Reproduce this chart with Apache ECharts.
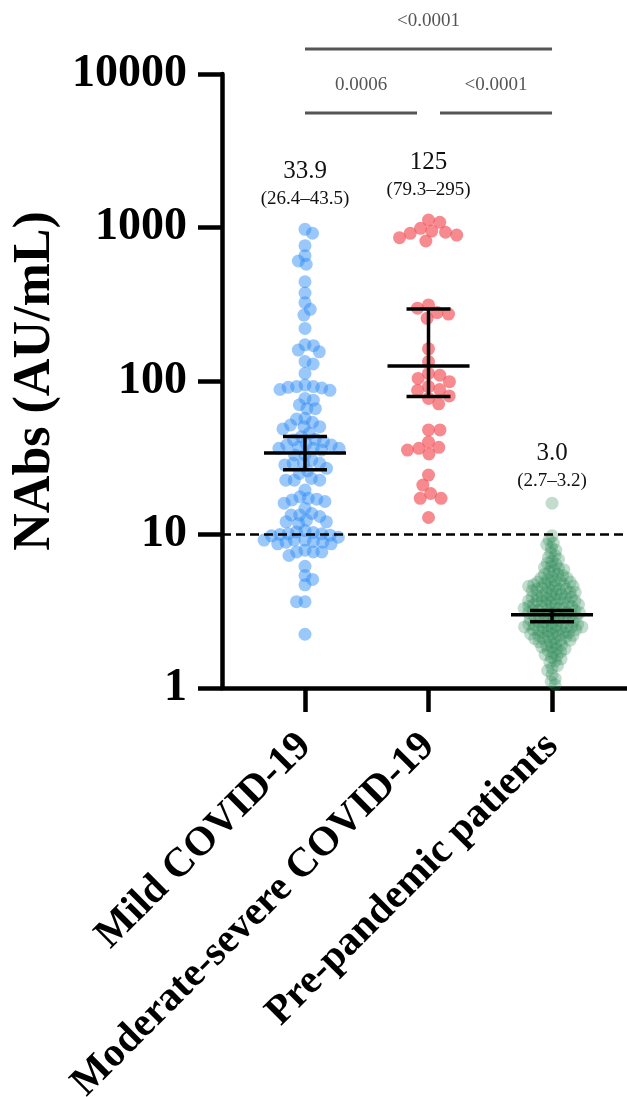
<!DOCTYPE html>
<html><head><meta charset="utf-8">
<script src="https://cdn.jsdelivr.net/npm/echarts@6/dist/echarts.min.js"></script>
<style>html,body{margin:0;padding:0;background:#fff}#c{width:627px;height:1097px}</style>
</head><body><div id="c"></div>
<script>
// ---------- DATA ----------
const categories = ['Mild COVID-19', 'Moderate-severe COVID-19', 'Pre-pandemic patients'];

const mildValues = [
  973, 917, 761, 655, 605, 576, 443, 374, 324, 293, 269, 220, 172, 170, 159, 155, 134, 129, 112,
  94, 92, 92, 91, 90, 88, 87, 77, 75, 70, 66, 66,
  57.2, 56.5, 53.8, 51.7, 50.4, 50.4, 48.7,
  45.6, 43.4, 41.7, 41.3, 40.3, 39, 38.3, 38.3, 37,
  36.4, 36.4, 36.4, 35.5, 33, 33,
  30.6, 29.1, 29.1, 29.1, 28.4, 27, 26, 25,
  23.2, 22.6, 22.6, 22.6, 19.5,
  17.6, 17.2, 17, 16.8, 16.4, 16,
  14.8, 13.7, 13.4, 13.4, 13.1, 12.4, 12.1, 12.1, 11.8,
  10.6, 10.4, 10.3, 10.1, 10.1, 10.0, 9.9, 9.8, 9.6,
  9.2, 9.2, 9.2, 9.0, 8.9, 8.9, 8.7, 8.7,
  7.9, 7.7, 7.7, 7.7, 7.3, 6.2, 5.4, 5.1, 4.7, 3.65, 3.65, 2.24
];

const severeValues = [
  1119, 1081, 988, 948, 931, 916, 893, 859, 817,
  313, 298, 279, 273, 256,
  162, 134, 112, 109, 104, 99, 92, 88, 87, 80, 77, 71,
  48, 48, 40, 37, 36.4, 35.5, 33.5,
  24.4, 21, 18.5, 17.2, 17.2, 12.9
];

const prepandemicValues = [
  16,
  9.8, 9.2, 8.8, 8.6,
  8.2, 7.9, 7.6, 7.3, 7.1,
  6.9, 6.7, 6.5, 6.4, 6.2, 6.1, 6.0, 5.9, 5.8, 5.7,
  5.5, 5.5, 5.4, 5.3, 5.2, 5.2, 5.1, 5.0, 5.0, 4.9, 4.9, 4.8, 4.8, 4.7, 4.7, 4.6, 4.6, 4.6,
  4.5, 4.5, 4.4, 4.4, 4.4, 4.3, 4.3, 4.2, 4.2, 4.2, 4.1, 4.1, 4.0, 4.0, 4.0, 3.9, 3.9, 3.9,
  3.8, 3.8, 3.8, 3.7, 3.7, 3.7, 3.7, 3.6, 3.6, 3.6, 3.5, 3.5, 3.5, 3.5, 3.4, 3.4, 3.4,
  3.3, 3.3, 3.3, 3.3, 3.2, 3.2, 3.2, 3.2, 3.1, 3.1, 3.1, 3.1, 3.0, 3.0, 3.0, 3.0, 2.95,
  2.9, 2.9, 2.9, 2.85, 2.8, 2.8, 2.8, 2.75, 2.7, 2.7, 2.7, 2.65, 2.65, 2.6, 2.6, 2.6,
  2.55, 2.55, 2.5, 2.5, 2.5, 2.5, 2.5,
  2.45, 2.45, 2.4, 2.4, 2.4, 2.35, 2.35, 2.3, 2.3, 2.3, 2.25, 2.25, 2.2, 2.2, 2.2,
  2.15, 2.15, 2.1, 2.1, 2.1, 2.05, 2.05,
  2.0, 2.0, 1.95, 1.9, 1.9, 1.85, 1.85, 1.8, 1.8, 1.75, 1.72, 1.7,
  1.65, 1.62, 1.58, 1.55, 1.5, 1.47,
  1.4, 1.35, 1.3, 1.22, 1.15, 1.1, 1.05
];

const geoMeans = [33.9, 125, 3.0];
const ciLow = [26.4, 79.3, 2.7];
const ciHigh = [43.5, 295, 3.2];

const yTickLabels = ['1', '10', '100', '1000', '10000'];
const yAxisTitle = 'NAbs (AU/mL)';
const threshold = 10;

const comparisons = [[0, 2], [0, 1], [1, 2]];
const pValues = ['<0.0001', '0.0006', '<0.0001'];

// ---------- STYLE ----------
const SERIF = "'Liberation Serif', 'DejaVu Serif', serif";
const groupColors = ['rgba(47,140,245,0.6)', 'rgba(242,84,91,0.85)', 'rgba(46,139,87,0.36)'];
const swarmSpacing = [8.5, 11.5, 5.1];
const labelGap = [0, 0, 8];
const dotSize = 13;

const chart = echarts.init(document.getElementById('c'), null, { renderer: 'canvas' });

const baseOption = {
  animation: false,
  backgroundColor: '#fff',
  grid: { left: 222, right: 0, top: 74, bottom: 409, containLabel: false, outerBoundsMode: 'none' },
  xAxis: {
    type: 'value', min: -0.672, max: 2.607,
    splitLine: { show: false },
    axisLine: { show: true, onZero: false, lineStyle: { color: '#000', width: 4.5 } },
    axisTick: { show: true, customValues: [0, 1, 2], length: 24, lineStyle: { color: '#000', width: 4.5 } },
    axisLabel: {
      show: true, customValues: [0, 1, 2], rotate: 45, margin: 52,
      formatter: v => categories[Math.round(v)],
      fontFamily: SERIF, fontWeight: 'bold', fontSize: 41, color: '#000'
    }
  },
  yAxis: {
    type: 'log', logBase: 10, min: 1, max: 10000,
    name: yAxisTitle, nameLocation: 'middle', nameGap: 149,
    nameTextStyle: { fontFamily: SERIF, fontWeight: 'bold', fontSize: 52, color: '#000' },
    splitLine: { show: false },
    axisLine: { show: true, onZero: false, lineStyle: { color: '#000', width: 4.5 } },
    axisTick: { show: true, length: 24, lineStyle: { color: '#000', width: 4.5 } },
    axisLabel: {
      margin: 35, fontFamily: SERIF, fontWeight: 'bold', fontSize: 46, color: '#000',
      formatter: v => yTickLabels[Math.round(Math.log10(v))]
    }
  },
  series: []
};
chart.setOption(baseOption);

// beeswarm layout in pixel space using the library's scales
function swarm(ysPx, d) {
  const order = ysPx.map((y, i) => i).sort((a, b) => ysPx[a] - ysPx[b]);
  const placed = [];
  const xs = new Array(ysPx.length).fill(0);
  let flip = 1;
  for (const i of order) {
    const y = ysPx[i];
    const near = placed.filter(p => Math.abs(p.y - y) < d);
    const cands = [0];
    for (const p of near) {
      const dx = Math.sqrt(d * d - (p.y - y) * (p.y - y));
      cands.push(p.x + dx, p.x - dx);
    }
    cands.sort((a, b) => (Math.abs(a) - Math.abs(b)) || (flip * (a - b)));
    for (const c of cands) {
      if (near.every(p => (p.x - c) * (p.x - c) + (p.y - y) * (p.y - y) >= d * d - 1e-6)) {
        xs[i] = c; placed.push({ x: c, y }); break;
      }
    }
    flip = -flip;
  }
  return xs;
}

const px0 = chart.convertToPixel({ gridIndex: 0 }, [0, 1]);
const px1 = chart.convertToPixel({ gridIndex: 0 }, [1, 1]);
const pxPerUnit = px1[0] - px0[0];

const groups = [mildValues, severeValues, prepandemicValues];
const scatterSeries = groups.map((vals, g) => {
  const ys = vals.map(v => chart.convertToPixel({ gridIndex: 0 }, [g, v])[1]);
  const xs = swarm(ys, swarmSpacing[g]);
  return {
    type: 'scatter', name: categories[g], symbol: 'circle', symbolSize: dotSize,
    itemStyle: { color: groupColors[g] }, z: 2,
    data: vals.map((v, i) => [g + xs[i] / pxPerUnit, v])
  };
});

const fmt = v => (v >= 100 ? String(v) : v.toFixed(1));

const summaryData = geoMeans.map((gm, g) => [g, gm, ciLow[g], ciHigh[g], Math.max.apply(null, groups[g])]);

const errorSeries = {
  type: 'custom', z: 10, silent: true,
  data: summaryData,
  renderItem: (params, api) => {
    const g = api.value(0);
    const c = api.coord([g, api.value(1)]);
    const lo = api.coord([g, api.value(2)]);
    const hi = api.coord([g, api.value(3)]);
    const wMean = 0.332 * pxPerUnit, wCap = 0.178 * pxPerUnit;
    const st = { stroke: '#000', lineWidth: 3.5 };
    return {
      type: 'group', children: [
        { type: 'line', shape: { x1: c[0] - wMean, y1: c[1], x2: c[0] + wMean, y2: c[1] }, style: st },
        { type: 'line', shape: { x1: c[0] - wCap, y1: lo[1], x2: c[0] + wCap, y2: lo[1] }, style: st },
        { type: 'line', shape: { x1: c[0] - wCap, y1: hi[1], x2: c[0] + wCap, y2: hi[1] }, style: st },
        { type: 'line', shape: { x1: c[0], y1: hi[1], x2: c[0], y2: lo[1] }, style: st }
      ]
    };
  }
};

const labelSeries = {
  type: 'custom', z: 10, silent: true, clip: false,
  data: summaryData,
  renderItem: (params, api) => {
    const g = api.value(0);
    const top = api.coord([g, api.value(4)]);
    const gmTxt = fmt(api.value(1));
    const ciTxt = '(' + fmt(api.value(2)) + '–' + fmt(api.value(3)) + ')';
    const lift = labelGap[g];
    return {
      type: 'group', children: [
        { type: 'text', x: top[0], y: top[1] - 58 + lift, style: { text: gmTxt, fontFamily: SERIF, fontSize: 25, fill: '#111', align: 'center', verticalAlign: 'middle' } },
        { type: 'text', x: top[0], y: top[1] - 30 + lift, style: { text: ciTxt, fontFamily: SERIF, fontSize: 19, fill: '#111', align: 'center', verticalAlign: 'middle' } }
      ]
    };
  }
};

const thresholdSeries = {
  type: 'custom', z: 8, silent: true,
  data: [[0, threshold]],
  renderItem: (params, api) => {
    const p = api.coord([0, api.value(1)]);
    const cs = params.coordSys;
    return {
      type: 'line', shape: { x1: cs.x, y1: p[1], x2: cs.x + cs.width, y2: p[1] },
      style: { stroke: '#000', lineWidth: 2.5, lineDash: [9, 5] }
    };
  }
};

const bracketSeries = {
  type: 'custom', z: 10, silent: true, clip: false,
  data: comparisons.map((pair, k) => [pair[0], pair[1], k]),
  renderItem: (params, api) => {
    const a = api.value(0), b = api.value(1), k = api.value(2);
    const cs = params.coordSys;
    const pa = api.coord([a, 1]), pb = api.coord([b, 1]);
    const spanning = (b - a) > 1;
    const y = spanning ? cs.y - 25 : cs.y + 39;
    const inset = 11.5;
    const x1 = pa[0] + (a === 0 ? 0 : inset);
    const x2 = pb[0] - (b === categories.length - 1 ? 0 : inset);
    return {
      type: 'group', children: [
        { type: 'line', shape: { x1, y1: y, x2, y2: y }, style: { stroke: '#555', lineWidth: 3 } },
        { type: 'text', x: (x1 + x2) / 2, y: y - 28, style: { text: pValues[k], fontFamily: SERIF, fontSize: 19, fill: '#555', align: 'center', verticalAlign: 'middle' } }
      ]
    };
  }
};

chart.setOption({ series: scatterSeries.concat([thresholdSeries, errorSeries, labelSeries, bracketSeries]) });
</script>
</body></html>
